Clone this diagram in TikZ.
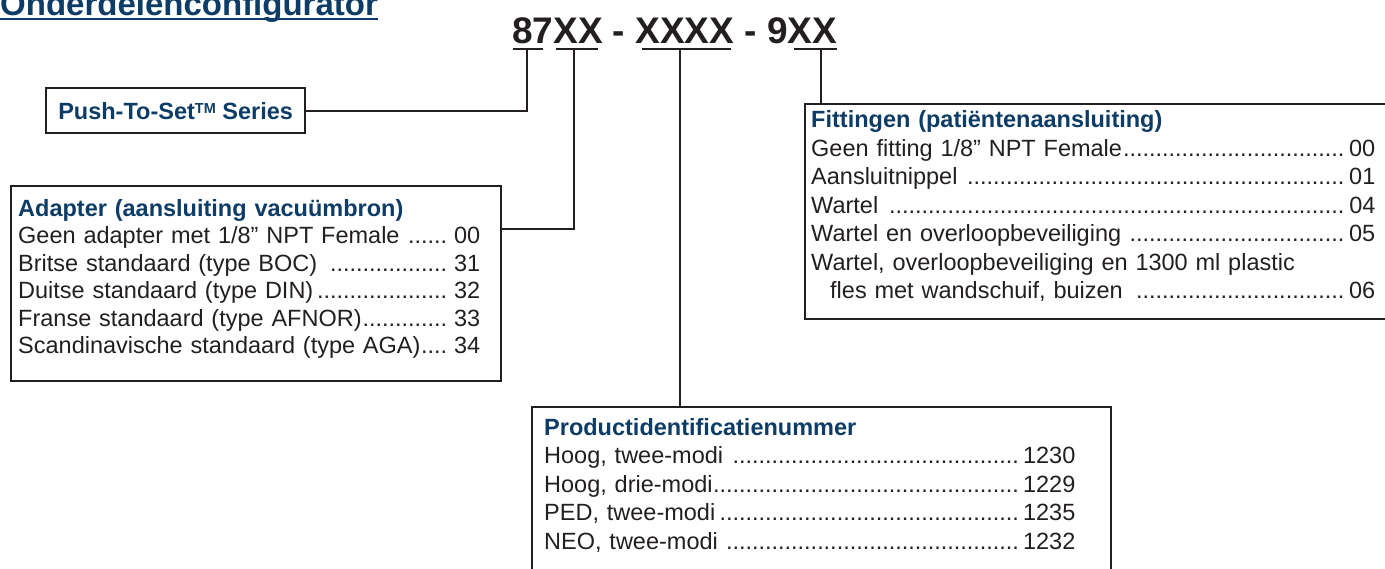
\documentclass[tikz,border=0pt]{standalone}
\usepackage{fontspec}
\setmainfont{Liberation Sans}
\usepackage{xcolor}
\usetikzlibrary{positioning}

\definecolor{headblue}{HTML}{0D3C66}
\definecolor{inkgray}{HTML}{231F20}

% one line of a list: text, dot leaders, code
\newcommand{\leaderrow}[2]{#1\leaders\hbox to 6.5pt{\hss.\hss}\hfill\kern2pt #2\par}
\newcommand{\listhead}[1]{{\bfseries\color{headblue}#1\par}}

\begin{document}
\begin{tikzpicture}[x=1pt, y=-1pt,
  panel/.style={draw=inkgray, line width=2.2pt, inner sep=0pt, anchor=north west},
  listtext/.style={text=inkgray, inner sep=0pt, anchor=base west},
  link/.style={draw=inkgray, line width=2pt}]
\useasboundingbox (0,0) rectangle (1385,568);
\clip (0,0) rectangle (1385,568);

% Title and part number
\node[anchor=base west, inner sep=0pt, text=headblue, font=\bfseries\fontsize{33}{33}\selectfont] (title) at (0,15) {Onderdelenconfigurator};
\draw[draw=headblue, line width=2.5pt] ([yshift=-4pt]title.base west) -- ([yshift=-4pt]title.base east);
\node[anchor=base west, inner sep=0pt, text=inkgray, font=\bfseries\fontsize{37}{37}\selectfont] (code) at (512,43) {87XX - XXXX - 9XX};

% underlines below the code
\coordinate (ul87w) at (513,48.5);  \coordinate (ul87e) at (543,48.5);  \coordinate (t87) at (527,48.5);
\coordinate (ulXXw) at (556,48.5);  \coordinate (ulXXe) at (598,48.5);  \coordinate (tXX) at (574,48.5);
\coordinate (ulidw) at (642,48.5);  \coordinate (ulide) at (731,48.5);  \coordinate (tid) at (680,48.5);
\coordinate (ulfitw) at (794,48.5); \coordinate (ulfite) at (837,48.5); \coordinate (tfit) at (821,48.5);
\draw[link] (ul87w) -- (ul87e);
\draw[link] (ulXXw) -- (ulXXe);
\draw[link] (ulidw) -- (ulide);
\draw[link] (ulfitw) -- (ulfite);

% Boxes
\node[panel, minimum width=259pt, minimum height=45pt, text=headblue, font=\bfseries\fontsize{23.5}{28}\selectfont] (pushbox) at (45,87) {Push-To-Set\raisebox{6pt}{\fontsize{14.5}{14.5}\selectfont TM} Series};

\node[panel, minimum width=490pt, minimum height=195pt] (adapterbox) at (10,185) {};
\node[listtext, text width=462pt, font=\fontsize{23.5}{27.5}\selectfont] (adapterlist) at ([shift={(8,31)}]adapterbox.north west) {%
\listhead{Adapter (aansluiting vacuümbron)}
\leaderrow{Geen adapter met 1/8” NPT Female }{00}
\leaderrow{Britse standaard (type BOC) }{31}
\leaderrow{Duitse standaard (type DIN)}{32}
\leaderrow{Franse standaard (type AFNOR)}{33}
\leaderrow{Scandinavische standaard (type AGA)}{34}};

\node[panel, minimum width=586pt, minimum height=215pt] (fitbox) at (804,103) {};
\node[listtext, text width=564pt, font=\fontsize{23.5}{28.5}\selectfont] (fitlist) at ([shift={(7,24.5)}]fitbox.north west) {%
\listhead{Fittingen (patiëntenaansluiting)}
\leaderrow{Geen fitting 1/8” NPT Female}{00}
\leaderrow{Aansluitnippel }{01}
\leaderrow{Wartel }{04}
\leaderrow{Wartel en overloopbeveiliging }{05}
Wartel, overloopbeveiliging en 1300 ml plastic\par
\leaderrow{\hspace*{19pt}fles met wandschuif, buizen }{06}};

\node[panel, minimum width=579pt, minimum height=190pt] (prodbox) at (531,406) {};
\node[listtext, text width=531pt, font=\fontsize{23.5}{28.5}\selectfont] (prodlist) at ([shift={(13,29)}]prodbox.north west) {%
\listhead{Productidentificatienummer}
\leaderrow{Hoog, twee-modi }{1230}
\leaderrow{Hoog, drie-modi}{1229}
\leaderrow{PED, twee-modi}{1235}
\leaderrow{NEO, twee-modi }{1232}};

% Connectors
\draw[link] (t87) |- (pushbox.east);
\draw[link] (tXX) |- ([yshift=54.5pt]adapterbox.east);
\draw[link] (tid) -- (tid |- prodbox.north);
\draw[link] (tfit) -- (tfit |- fitbox.north);
\end{tikzpicture}
\end{document}
